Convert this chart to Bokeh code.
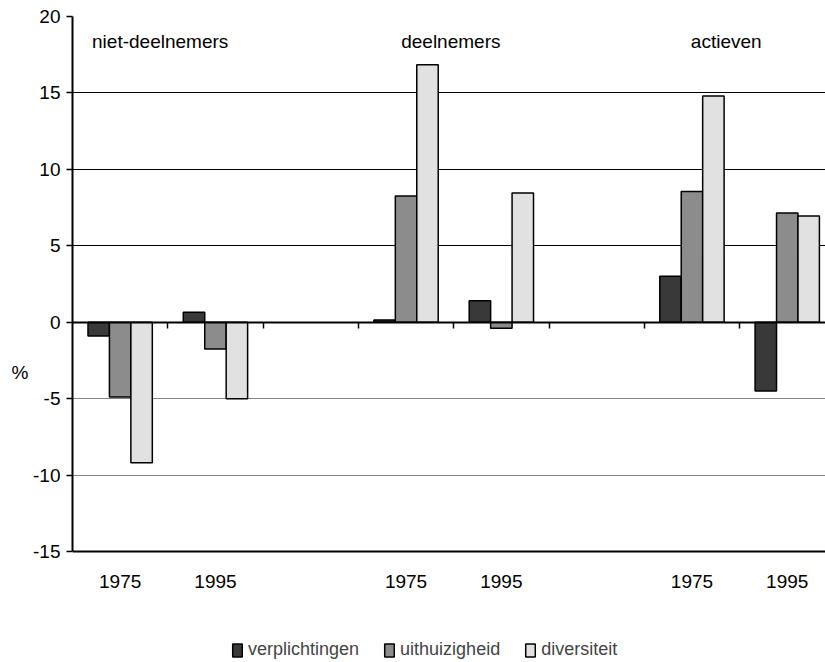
from bokeh.plotting import figure
from bokeh.models import (Range1d, LinearAxis, FixedTicker, Grid, Legend,
                          LegendItem, Label, ColumnDataSource)
from bokeh.embed import file_html
from bokeh.resources import INLINE

# ---- data ----
groups = ["niet-deelnemers", "deelnemers", "actieven"]
years = ["1975", "1995"]
series = ["verplichtingen", "uithuizigheid", "diversiteit"]
verplichtingen = [-0.9, 0.65, 0.15, 1.4, 3.0, -4.5]
uithuizigheid = [-4.9, -1.75, 8.25, -0.4, 8.55, 7.15]
diversiteit = [-9.2, -5.0, 16.85, 8.45, 14.8, 6.95]
y_ticks = [-15, -10, -5, 0, 5, 10, 15, 20]
y_label = "%"

# ---- style / layout ----
FONT = "Liberation Sans"
colors = ["#393939", "#8c8c8c", "#e1e1e1"]
slots_per_group = 3
bar_w = 0.225
group_label_offsets = [0.92, 0.97, 0.86]
group_label_y = 18.35
pct_label_y = -3.3

W, H = 825, 662
TOP, LEFT = 16, 72
PLOT_PX = 535                      # pixel height of the -15..20 value span
y_lo, y_hi = y_ticks[0], y_ticks[-1]
px_per_unit = PLOT_PX / (y_hi - y_lo)
y_min = y_hi - (H - TOP) / px_per_unit   # frame extends down to hold legend

centers, tick_labels = [], []
for g in range(len(groups)):
    for j, yr in enumerate(years):
        centers.append(g * slots_per_group + j + 0.5)
        tick_labels.append(yr)
boundaries = list(range(1, slots_per_group * len(groups)))

p = figure(width=W, height=H, output_backend="svg", toolbar_location=None,
           x_range=Range1d(0, (W - LEFT) / 95.3), y_range=Range1d(y_min, y_hi),
           x_axis_type=None, y_axis_type=None,
           min_border_left=LEFT, min_border_right=0, min_border_top=TOP,
           min_border_bottom=0, outline_line_color=None,
           background_fill_color="white", border_fill_color="white")

# grids
p.add_layout(Grid(dimension=1, ticker=FixedTicker(ticks=[v for v in y_ticks if v > 0]),
                  grid_line_color="black", grid_line_width=1))
p.add_layout(Grid(dimension=1, ticker=FixedTicker(ticks=[v for v in y_ticks if y_lo < v < 0]),
                  grid_line_color="#858585", grid_line_width=1))

# bars
renderers = []
for k, (name, vals) in enumerate(zip(series, [verplichtingen, uithuizigheid, diversiteit])):
    src = ColumnDataSource(dict(x=[c + (k - 1) * bar_w for c in centers], top=vals))
    r = p.vbar(x="x", top="top", bottom=0, width=bar_w, source=src,
               fill_color=colors[k], line_color="black", line_width=1.5)
    renderers.append((name, r))

# y axis
yaxis = LinearAxis(ticker=FixedTicker(ticks=y_ticks), bounds=(y_lo, y_hi),
                   major_label_overrides={v: str(v) for v in y_ticks},
                   axis_line_width=2, axis_line_color="black",
                   major_tick_out=6, major_tick_in=0,
                   major_tick_line_width=1.5, minor_tick_line_color=None,
                   major_label_text_font=FONT, major_label_text_font_size="19px",
                   major_label_text_color="black", major_label_standoff=6)
p.add_layout(yaxis, "left")

# "%" unit label as the single tick label of a second, invisible left axis
paxis = LinearAxis(ticker=FixedTicker(ticks=[pct_label_y]),
                   major_label_overrides={pct_label_y: y_label},
                   axis_line_color=None, major_tick_line_color=None,
                   minor_tick_line_color=None, major_tick_out=0, major_tick_in=0,
                   major_label_text_font=FONT, major_label_text_font_size="19px",
                   major_label_text_color="black", major_label_standoff=2)
p.add_layout(paxis, "left")

# bottom axis (at -15) with year labels
xaxis = LinearAxis(fixed_location=y_lo, ticker=FixedTicker(ticks=centers),
                   major_label_overrides={c: l for c, l in zip(centers, tick_labels)},
                   axis_line_width=2, axis_line_color="black",
                   major_tick_out=0, major_tick_in=0, minor_tick_line_color=None,
                   major_label_text_font=FONT, major_label_text_font_size="19px",
                   major_label_text_color="black", major_label_standoff=23)
p.add_layout(xaxis, "below")

# zero axis with category-boundary ticks
zaxis = LinearAxis(fixed_location=0, ticker=FixedTicker(ticks=boundaries),
                   axis_line_width=2, axis_line_color="black",
                   major_tick_out=6, major_tick_in=0, major_tick_line_width=1.5,
                   minor_tick_line_color=None, major_label_text_color=None,
                   major_label_text_font_size="1px")
p.add_layout(zaxis, "below")

# group labels
for g, name in enumerate(groups):
    p.add_layout(Label(x=g * slots_per_group + group_label_offsets[g], y=group_label_y,
                       text=name, text_align="center", text_baseline="alphabetic",
                       text_font=FONT, text_font_size="19px", text_color="black"))

legend = Legend(items=[LegendItem(label=n, renderers=[r]) for n, r in renderers],
                location=(159, 2), orientation="horizontal",
                glyph_width=12, glyph_height=16, label_text_font=FONT,
                label_text_font_size="18px", label_standoff=5, spacing=24,
                padding=2, margin=0, border_line_color=None,
                background_fill_alpha=0, label_height=16)
p.add_layout(legend)

open("out.html", "w").write(file_html(p, INLINE))
